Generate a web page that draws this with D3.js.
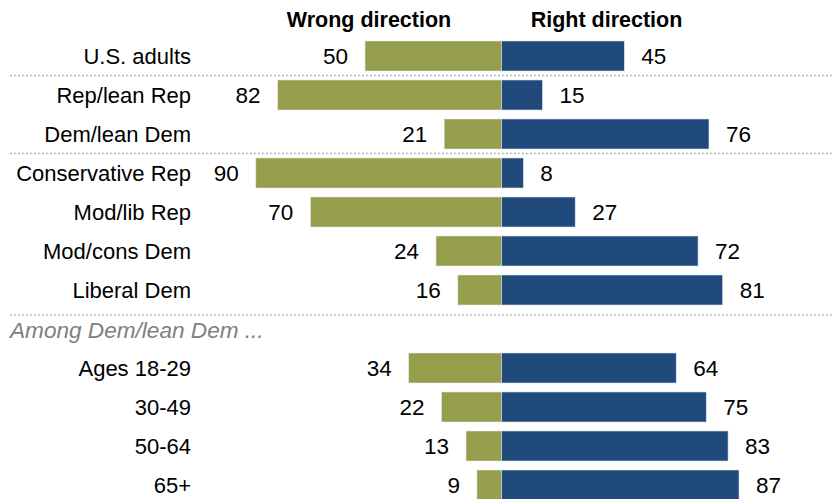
<!DOCTYPE html>
<html>
<head>
<meta charset="utf-8">
<script src="https://cdn.jsdelivr.net/npm/d3@7"></script>
<style>
  html, body { margin: 0; padding: 0; background: #fff; }
  svg { display: block; font-family: "Liberation Sans", Arial, sans-serif; }
</style>
</head>
<body>
<svg id="chart" width="834" height="499"></svg>
<script>
// ---- data ----
const categories = [
  "U.S. adults",
  "Rep/lean Rep", "Dem/lean Dem",
  "Conservative Rep", "Mod/lib Rep", "Mod/cons Dem", "Liberal Dem",
  "Ages 18-29", "30-49", "50-64", "65+"
];
const wrongDirection = [50, 82, 21, 90, 70, 24, 16, 34, 22, 13, 9];
const rightDirection = [45, 15, 76, 8, 27, 72, 81, 64, 75, 83, 87];
const seriesNames = ["Wrong direction", "Right direction"];
const sectionNote = "Among Dem/lean Dem ...";

// ---- layout ----
const svg = d3.select("#chart");
const W = 834, H = 499;
const cx = 501.5;
const green = "#969d4b", blue = "#214a7c";

// slot keys: rows + a slot for the section note before the age rows
const slots = categories.slice(0, 7).concat(["__note"], categories.slice(7));
const y = d3.scaleBand()
  .domain(slots)
  .range([36.5, 36.5 + 39 * slots.length])
  .paddingInner(0.23)
  .paddingOuter(0.115);

const xR = d3.scaleLinear().domain([0, 100]).range([cx, cx + 273]);
const xL = d3.scaleLinear().domain([0, 100]).range([cx, cx - 273]);

const rows = categories.map((c, i) => ({ c, w: wrongDirection[i], r: rightDirection[i] }));

// separators
const sepY = [
  (y(categories[0]) + y.bandwidth() + y(categories[1])) / 2,
  (y(categories[2]) + y.bandwidth() + y(categories[3])) / 2,
  y("__note") + 1
];
svg.selectAll("line.sep").data(sepY).enter().append("line")
  .attr("class", "sep")
  .attr("x1", 10).attr("x2", W)
  .attr("y1", d => d).attr("y2", d => d)
  .attr("stroke", "#a6a6a6")
  .attr("stroke-width", 1.6)
  .attr("stroke-dasharray", "1.6,2.4");

// headers
svg.append("text").attr("x", 369).attr("y", 27)
  .attr("text-anchor", "middle").attr("font-weight", "bold")
  .attr("font-size", 21.5).attr("fill", "#000").text(seriesNames[0]);
svg.append("text").attr("x", 606.5).attr("y", 27)
  .attr("text-anchor", "middle").attr("font-weight", "bold")
  .attr("font-size", 21.5).attr("fill", "#000").text(seriesNames[1]);

// bars
const g = svg.append("g");
g.selectAll("rect.w").data(rows).enter().append("rect")
  .attr("class", "w")
  .attr("x", d => xL(d.w)).attr("width", d => xL(0) - xL(d.w))
  .attr("y", d => y(d.c)).attr("height", y.bandwidth())
  .attr("fill", green).attr("stroke", "#e4e8ee").attr("stroke-width", 0.6);
g.selectAll("rect.r").data(rows).enter().append("rect")
  .attr("class", "r")
  .attr("x", xR(0)).attr("width", d => xR(d.r) - xR(0))
  .attr("y", d => y(d.c)).attr("height", y.bandwidth())
  .attr("fill", blue).attr("stroke", "#dfe5ee").attr("stroke-width", 0.6);

const mid = d => y(d.c) + y.bandwidth() / 2 + 8;

// category labels
g.selectAll("text.lab").data(rows).enter().append("text")
  .attr("class", "lab")
  .attr("x", 191).attr("y", mid)
  .attr("text-anchor", "end").attr("font-size", 22).attr("fill", "#000")
  .text(d => d.c);

// value labels
g.selectAll("text.vw").data(rows).enter().append("text")
  .attr("class", "vw")
  .attr("x", d => xL(d.w) - 17).attr("y", mid)
  .attr("text-anchor", "end").attr("font-size", 22.5).attr("fill", "#000")
  .text(d => d.w);
g.selectAll("text.vr").data(rows).enter().append("text")
  .attr("class", "vr")
  .attr("x", d => xR(d.r) + 17).attr("y", mid)
  .attr("text-anchor", "start").attr("font-size", 22.5).attr("fill", "#000")
  .text(d => d.r);

// section note
svg.append("text")
  .attr("x", 10).attr("y", y("__note") + y.bandwidth() / 2 + 9)
  .attr("font-size", 22.6).attr("font-style", "italic").attr("fill", "#808080")
  .text(sectionNote);
</script>
</body>
</html>
